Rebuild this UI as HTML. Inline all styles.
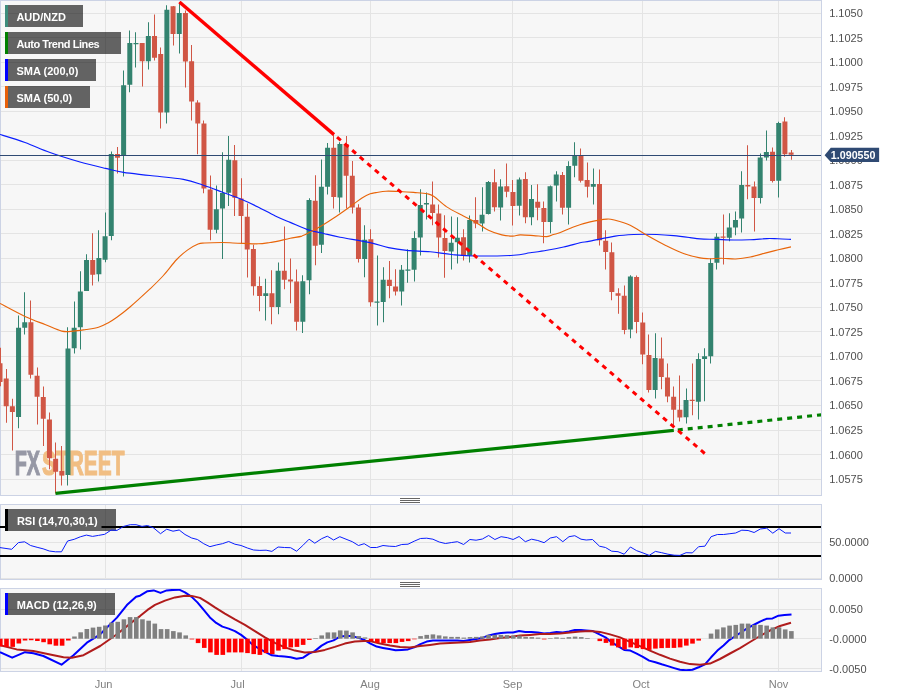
<!DOCTYPE html>
<html lang="en"><head><meta charset="utf-8"><title>AUD/NZD chart</title>
<style>html,body{margin:0;padding:0;background:#fff;}body{width:898px;height:697px;overflow:hidden;}svg{display:block}text{font-family:"Liberation Sans", Arial, sans-serif;}.ax{font-size:11px;fill:#505050;}.xl{font-size:11px;fill:#808080;text-anchor:middle;}.lg{font-size:11px;font-weight:bold;fill:#fff;}</style></head><body>
<svg width="898" height="697" viewBox="0 0 898 697">
<rect x="0" y="0" width="898" height="697" fill="#fff"/>
<rect x="0.5" y="0.5" width="821" height="495.0" fill="#f7f7f7" stroke="#ccd3e5" stroke-width="1"/>
<rect x="0.5" y="504.5" width="821" height="75.0" fill="#f7f7f7" stroke="#ccd3e5" stroke-width="1"/>
<rect x="0.5" y="588.5" width="821" height="83.0" fill="#f7f7f7" stroke="#ccd3e5" stroke-width="1"/>
<path d="M1 13.5H821M1 37.5H821M1 62.5H821M1 86.5H821M1 111.5H821M1 135.5H821M1 160.5H821M1 184.5H821M1 209.5H821M1 233.5H821M1 258.5H821M1 282.5H821M1 307.5H821M1 331.5H821M1 356.5H821M1 380.5H821M1 405.5H821M1 430.5H821M1 454.5H821M1 479.5H821M105.5 1V495M105.5 505V579M105.5 589V671M241.5 1V495M241.5 505V579M241.5 589V671M370.5 1V495M370.5 505V579M370.5 589V671M512.5 1V495M512.5 505V579M512.5 589V671M642.5 1V495M642.5 505V579M642.5 589V671M778.5 1V495M778.5 505V579M778.5 589V671M1 542.5H821M1 578.5H821M1 609.5H821M1 638.5H821M1 668.5H821" stroke="#e4e4e4" stroke-width="1" fill="none"/>
<defs><clipPath id="c1"><rect x="0" y="1" width="821" height="494"/></clipPath><clipPath id="c2"><rect x="0" y="505" width="821" height="74"/></clipPath><clipPath id="c3"><rect x="0" y="589" width="821" height="82"/></clipPath></defs>
<g clip-path="url(#c1)">
<g font-size="35.4" font-weight="bold" stroke-width="1.2" paint-order="stroke" lengthAdjust="spacingAndGlyphs"><text x="14.7" y="474.9" textLength="25.4" lengthAdjust="spacingAndGlyphs" fill="#9698a5" stroke="#9698a5">FX</text><text x="42" y="474.9" textLength="82.4" lengthAdjust="spacingAndGlyphs" fill="#f1be83" stroke="#f1be83">STREET</text></g>
<g>
<path d="M-2.49 363.2h5v18.8h-5zM0 347.8h1v38.5h-1z" fill="#d05645"/>
<path d="M3.69 378.6h5v27.6h-5zM6 369.0h1v53.7h-1z" fill="#d05645"/>
<path d="M9.87 406.2h5v5.9h-5zM12 398.7h1v51.8h-1z" fill="#d05645"/>
<path d="M16.05 327.8h5v89.1h-5zM18 315.6h1v112.7h-1z" fill="#33836f"/>
<path d="M22.23 322.3h5v5.5h-5zM24 292.2h1v42.3h-1z" fill="#33836f"/>
<path d="M28.41 322.3h5v52.4h-5zM30 300.6h1v78.0h-1z" fill="#d05645"/>
<path d="M34.59 375.7h5v21.0h-5zM37 367.4h1v57.2h-1z" fill="#d05645"/>
<path d="M40.77 397.0h5v21.7h-5zM43 386.5h1v59.6h-1z" fill="#d05645"/>
<path d="M46.95 419.6h5v38.7h-5zM49 412.4h1v56.8h-1z" fill="#d05645"/>
<path d="M53.13 458.7h5v13.0h-5zM55 442.5h1v50.9h-1z" fill="#d05645"/>
<path d="M59.31 470.9h5v4.6h-5zM61 446.1h1v39.3h-1z" fill="#d05645"/>
<path d="M65.49 348.5h5v126.5h-5zM67 327.3h1v158.1h-1z" fill="#33836f"/>
<path d="M71.67 327.8h5v20.4h-5zM74 301.4h1v52.1h-1z" fill="#33836f"/>
<path d="M77.85 291.4h5v35.9h-5zM80 271.3h1v78.2h-1z" fill="#33836f"/>
<path d="M84.03 260.1h5v30.9h-5zM86 254.2h1v36.8h-1z" fill="#33836f"/>
<path d="M90.21 260.1h5v14.6h-5zM92 233.3h1v52.2h-1z" fill="#d05645"/>
<path d="M96.39 258.1h5v16.2h-5zM98 230.2h1v51.2h-1z" fill="#33836f"/>
<path d="M102.58 236.3h5v23.4h-5zM105 212.5h1v49.7h-1z" fill="#33836f"/>
<path d="M108.76 154.0h5v82.0h-5zM111 151.5h1v88.7h-1z" fill="#33836f"/>
<path d="M114.94 154.0h5v3.8h-5zM117 147.0h1v26.4h-1z" fill="#d05645"/>
<path d="M121.12 85.2h5v70.1h-5zM123 70.5h1v106.1h-1z" fill="#33836f"/>
<path d="M127.30 43.0h5v41.7h-5zM129 30.4h1v61.9h-1z" fill="#33836f"/>
<path d="M133.48 43.1h5v1.2h-5zM135 32.3h1v35.1h-1z" fill="#33836f"/>
<path d="M139.66 43.0h5v18.3h-5zM142 43.0h1v43.4h-1z" fill="#d05645"/>
<path d="M145.84 35.9h5v25.4h-5zM148 22.2h1v47.2h-1z" fill="#33836f"/>
<path d="M152.02 35.9h5v21.8h-5zM154 14.5h1v46.0h-1z" fill="#d05645"/>
<path d="M158.20 54.0h5v58.5h-5zM160 47.6h1v80.8h-1z" fill="#d05645"/>
<path d="M164.38 9.7h5v102.8h-5zM166 5.3h1v118.1h-1z" fill="#33836f"/>
<path d="M170.56 6.2h5v27.7h-5zM173 6.0h1v39.5h-1z" fill="#d05645"/>
<path d="M176.74 13.0h5v20.9h-5zM179 2.5h1v51.0h-1z" fill="#33836f"/>
<path d="M182.92 13.0h5v48.5h-5zM185 10.4h1v77.0h-1z" fill="#d05645"/>
<path d="M189.10 61.3h5v40.3h-5zM191 45.1h1v75.3h-1z" fill="#d05645"/>
<path d="M195.28 102.5h5v20.9h-5zM197 100.3h1v54.0h-1z" fill="#d05645"/>
<path d="M201.46 123.4h5v65.2h-5zM203 120.4h1v72.9h-1z" fill="#d05645"/>
<path d="M207.64 189.4h5v40.4h-5zM210 175.5h1v64.7h-1z" fill="#d05645"/>
<path d="M213.82 209.3h5v20.5h-5zM216 185.6h1v47.6h-1z" fill="#33836f"/>
<path d="M220.00 193.1h5v15.5h-5zM222 152.3h1v106.8h-1z" fill="#33836f"/>
<path d="M226.18 159.8h5v33.0h-5zM228 135.9h1v70.2h-1z" fill="#33836f"/>
<path d="M232.36 160.2h5v37.6h-5zM234 145.1h1v70.9h-1z" fill="#d05645"/>
<path d="M238.54 198.6h5v17.4h-5zM241 178.2h1v65.4h-1z" fill="#d05645"/>
<path d="M244.72 216.8h5v32.6h-5zM247 203.6h1v73.9h-1z" fill="#d05645"/>
<path d="M250.90 248.9h5v37.3h-5zM253 244.7h1v50.7h-1z" fill="#d05645"/>
<path d="M257.08 285.9h5v10.0h-5zM259 276.5h1v34.8h-1z" fill="#d05645"/>
<path d="M263.26 293.2h5v2.7h-5zM265 278.7h1v41.8h-1z" fill="#33836f"/>
<path d="M269.44 293.2h5v13.9h-5zM271 270.3h1v54.0h-1z" fill="#d05645"/>
<path d="M275.62 270.7h5v36.4h-5zM278 262.5h1v51.8h-1z" fill="#33836f"/>
<path d="M281.80 270.7h5v9.1h-5zM284 226.4h1v62.8h-1z" fill="#d05645"/>
<path d="M287.98 279.5h5v2.0h-5zM290 258.6h1v44.6h-1z" fill="#d05645"/>
<path d="M294.16 281.5h5v40.3h-5zM296 269.5h1v61.0h-1z" fill="#d05645"/>
<path d="M300.34 281.2h5v40.6h-5zM302 275.3h1v57.7h-1z" fill="#33836f"/>
<path d="M306.52 200.1h5v80.2h-5zM309 198.2h1v96.0h-1z" fill="#33836f"/>
<path d="M312.71 200.7h5v45.1h-5zM315 175.3h1v90.0h-1z" fill="#d05645"/>
<path d="M318.89 186.7h5v58.0h-5zM321 159.5h1v93.6h-1z" fill="#33836f"/>
<path d="M325.07 147.8h5v38.9h-5zM327 143.1h1v51.5h-1z" fill="#33836f"/>
<path d="M331.25 147.8h5v49.3h-5zM333 134.4h1v74.0h-1z" fill="#d05645"/>
<path d="M337.43 143.9h5v53.5h-5zM339 142.3h1v70.3h-1z" fill="#33836f"/>
<path d="M343.61 143.9h5v31.8h-5zM346 136.1h1v72.3h-1z" fill="#d05645"/>
<path d="M349.79 175.8h5v31.8h-5zM352 161.1h1v52.3h-1z" fill="#d05645"/>
<path d="M355.97 207.6h5v51.3h-5zM358 204.3h1v58.3h-1z" fill="#d05645"/>
<path d="M362.15 239.7h5v19.2h-5zM364 225.3h1v52.0h-1z" fill="#33836f"/>
<path d="M368.33 239.2h5v63.0h-5zM370 229.2h1v77.4h-1z" fill="#d05645"/>
<path d="M374.51 301.6h5v1.2h-5zM377 255.4h1v70.2h-1z" fill="#33836f"/>
<path d="M380.69 279.8h5v22.1h-5zM383 267.3h1v55.0h-1z" fill="#33836f"/>
<path d="M386.87 279.7h5v6.3h-5zM389 260.9h1v37.3h-1z" fill="#d05645"/>
<path d="M393.05 286.4h5v5.0h-5zM395 269.3h1v26.2h-1z" fill="#d05645"/>
<path d="M399.23 269.8h5v21.7h-5zM401 265.1h1v40.5h-1z" fill="#33836f"/>
<path d="M405.41 269.6h5v1.2h-5zM407 249.2h1v33.5h-1z" fill="#33836f"/>
<path d="M411.59 238.0h5v31.8h-5zM414 231.2h1v50.3h-1z" fill="#33836f"/>
<path d="M417.77 205.1h5v32.4h-5zM420 189.2h1v66.4h-1z" fill="#33836f"/>
<path d="M423.95 202.9h5v1.7h-5zM426 192.4h1v27.2h-1z" fill="#33836f"/>
<path d="M430.13 204.5h5v8.5h-5zM432 181.5h1v43.8h-1z" fill="#d05645"/>
<path d="M436.31 213.6h5v24.0h-5zM438 204.4h1v53.2h-1z" fill="#d05645"/>
<path d="M442.49 238.0h5v13.0h-5zM444 215.2h1v62.5h-1z" fill="#d05645"/>
<path d="M448.67 242.7h5v8.8h-5zM451 216.4h1v53.2h-1z" fill="#33836f"/>
<path d="M454.85 237.8h5v4.4h-5zM457 217.2h1v46.3h-1z" fill="#33836f"/>
<path d="M461.03 237.3h5v18.6h-5zM463 229.3h1v31.3h-1z" fill="#d05645"/>
<path d="M467.21 219.9h5v35.5h-5zM469 215.5h1v47.1h-1z" fill="#33836f"/>
<path d="M473.39 219.9h5v3.6h-5zM475 197.3h1v31.0h-1z" fill="#d05645"/>
<path d="M479.57 214.7h5v8.9h-5zM482 187.3h1v44.1h-1z" fill="#33836f"/>
<path d="M485.75 182.1h5v31.9h-5zM488 180.9h1v33.6h-1z" fill="#33836f"/>
<path d="M491.93 182.3h5v24.9h-5zM494 169.2h1v42.2h-1z" fill="#d05645"/>
<path d="M498.11 186.5h5v20.9h-5zM500 179.3h1v41.3h-1z" fill="#33836f"/>
<path d="M504.29 186.3h5v5.5h-5zM506 163.4h1v33.9h-1z" fill="#d05645"/>
<path d="M510.47 192.1h5v13.9h-5zM512 180.1h1v45.5h-1z" fill="#d05645"/>
<path d="M516.66 179.6h5v26.1h-5zM519 177.6h1v37.9h-1z" fill="#33836f"/>
<path d="M522.84 178.9h5v38.3h-5zM525 172.3h1v50.9h-1z" fill="#d05645"/>
<path d="M529.02 199.0h5v18.2h-5zM531 185.1h1v40.1h-1z" fill="#33836f"/>
<path d="M535.20 201.8h5v5.9h-5zM537 184.3h1v35.9h-1z" fill="#d05645"/>
<path d="M541.38 208.0h5v13.9h-5zM543 201.5h1v41.8h-1z" fill="#d05645"/>
<path d="M547.56 186.3h5v35.6h-5zM550 185.5h1v47.8h-1z" fill="#33836f"/>
<path d="M553.74 174.6h5v11.0h-5zM556 171.3h1v30.2h-1z" fill="#33836f"/>
<path d="M559.92 175.1h5v32.6h-5zM562 172.1h1v42.3h-1z" fill="#d05645"/>
<path d="M566.10 165.9h5v41.8h-5zM568 161.2h1v63.2h-1z" fill="#33836f"/>
<path d="M572.28 155.5h5v10.2h-5zM574 142.3h1v35.0h-1z" fill="#33836f"/>
<path d="M578.46 155.9h5v24.8h-5zM580 148.4h1v34.2h-1z" fill="#d05645"/>
<path d="M584.64 180.1h5v6.7h-5zM587 162.6h1v34.8h-1z" fill="#d05645"/>
<path d="M590.82 184.0h5v2.8h-5zM593 168.4h1v36.0h-1z" fill="#33836f"/>
<path d="M597.00 184.0h5v56.2h-5zM599 169.6h1v75.9h-1z" fill="#d05645"/>
<path d="M603.18 240.8h5v11.1h-5zM605 230.3h1v39.1h-1z" fill="#d05645"/>
<path d="M609.36 252.2h5v39.8h-5zM611 242.5h1v57.8h-1z" fill="#d05645"/>
<path d="M615.54 293.3h5v2.4h-5zM618 288.3h1v25.4h-1z" fill="#d05645"/>
<path d="M621.72 295.8h5v34.1h-5zM624 285.6h1v48.7h-1z" fill="#d05645"/>
<path d="M627.90 276.4h5v53.2h-5zM630 275.3h1v63.0h-1z" fill="#33836f"/>
<path d="M634.08 276.9h5v45.2h-5zM636 275.6h1v57.7h-1z" fill="#d05645"/>
<path d="M640.26 322.6h5v31.9h-5zM642 312.4h1v51.8h-1z" fill="#d05645"/>
<path d="M646.44 355.0h5v35.1h-5zM648 334.6h1v58.0h-1z" fill="#d05645"/>
<path d="M652.62 358.0h5v32.1h-5zM655 333.3h1v65.2h-1z" fill="#33836f"/>
<path d="M658.80 358.4h5v18.7h-5zM661 337.5h1v51.8h-1z" fill="#d05645"/>
<path d="M664.98 377.6h5v18.9h-5zM667 363.4h1v38.9h-1z" fill="#d05645"/>
<path d="M671.16 396.8h5v12.9h-5zM673 386.4h1v40.8h-1z" fill="#d05645"/>
<path d="M677.34 409.7h5v7.7h-5zM679 375.4h1v46.0h-1z" fill="#d05645"/>
<path d="M683.52 400.1h5v17.1h-5zM686 388.4h1v35.1h-1z" fill="#33836f"/>
<path d="M689.70 399.8h5v1.2h-5zM692 363.4h1v51.8h-1z" fill="#d05645"/>
<path d="M695.88 358.9h5v42.9h-5zM698 353.3h1v66.1h-1z" fill="#33836f"/>
<path d="M702.06 356.2h5v2.7h-5zM704 348.3h1v53.0h-1z" fill="#33836f"/>
<path d="M708.24 263.1h5v93.1h-5zM710 258.6h1v104.8h-1z" fill="#33836f"/>
<path d="M714.42 236.7h5v26.0h-5zM716 233.3h1v36.1h-1z" fill="#33836f"/>
<path d="M720.61 236.5h5v1.3h-5zM723 214.4h1v50.0h-1z" fill="#d05645"/>
<path d="M726.79 227.4h5v10.4h-5zM729 213.2h1v28.1h-1z" fill="#33836f"/>
<path d="M732.97 219.9h5v7.5h-5zM735 211.4h1v23.9h-1z" fill="#33836f"/>
<path d="M739.15 185.1h5v33.5h-5zM741 171.3h1v61.1h-1z" fill="#33836f"/>
<path d="M745.33 185.1h5v1.4h-5zM747 145.2h1v54.1h-1z" fill="#d05645"/>
<path d="M751.51 186.5h5v11.5h-5zM754 181.5h1v50.1h-1z" fill="#d05645"/>
<path d="M757.69 157.5h5v40.5h-5zM760 153.4h1v50.1h-1z" fill="#33836f"/>
<path d="M763.87 151.9h5v5.6h-5zM766 130.4h1v30.0h-1z" fill="#33836f"/>
<path d="M770.05 151.7h5v29.3h-5zM772 147.5h1v35.1h-1z" fill="#d05645"/>
<path d="M776.23 122.9h5v57.9h-5zM778 121.7h1v75.8h-1z" fill="#33836f"/>
<path d="M782.41 121.4h5v32.9h-5zM784 117.2h1v39.6h-1z" fill="#d05645"/>
<path d="M788.59 152.5h5v2.2h-5zM791 150.0h1v9.7h-1z" fill="#d05645"/>
</g>
<path d="M0.0 134.5C4.2 135.8 16.7 139.5 25.0 142.5C33.3 145.5 40.8 149.2 50.0 152.5C59.2 155.8 70.7 159.3 80.0 162.0C89.3 164.7 98.3 166.7 105.6 168.4C112.8 170.1 116.1 171.2 123.5 172.4C130.9 173.6 140.0 174.3 150.0 175.5C160.0 176.7 174.5 177.8 183.4 179.4C192.3 181.0 197.0 183.1 203.4 185.2C209.8 187.3 215.6 189.6 222.0 192.0C228.4 194.4 235.9 197.0 241.9 199.5C247.9 202.0 252.4 204.2 258.0 207.0C263.6 209.8 269.9 213.4 275.3 216.0C280.7 218.6 284.9 220.2 290.2 222.4C295.5 224.6 301.3 227.6 306.9 229.4C312.5 231.2 318.1 232.2 323.6 233.5C329.1 234.8 332.2 235.7 340.0 237.2C347.8 238.7 362.0 240.9 370.1 242.6C378.2 244.3 382.4 246.3 388.5 247.6C394.6 248.9 399.9 249.7 406.8 250.4C413.8 251.1 422.7 251.1 430.2 251.8C437.7 252.5 444.2 253.8 451.7 254.5C459.2 255.2 464.7 255.9 475.0 256.0C485.3 256.1 504.3 255.8 513.5 255.3C522.7 254.8 524.6 253.6 530.2 252.8C535.8 252.0 541.3 251.3 546.9 250.3C552.5 249.3 558.1 248.2 563.6 247.0C569.1 245.8 575.6 243.8 580.0 242.8C584.4 241.8 584.2 242.2 590.1 241.1C596.0 240.0 608.0 237.2 615.2 236.1C622.4 235.0 626.5 234.8 633.5 234.5C640.5 234.2 650.2 234.3 656.9 234.5C663.6 234.7 668.1 235.1 673.6 235.6C679.1 236.1 685.6 237.0 690.0 237.6C694.4 238.2 695.5 238.6 700.0 238.9C704.5 239.2 711.2 239.2 716.8 239.4C722.4 239.6 728.1 239.9 733.6 240.0C739.1 240.1 744.4 239.9 750.0 239.7C755.6 239.5 762.3 238.8 767.0 238.6C771.7 238.4 774.0 238.7 778.0 238.8C782.0 238.9 788.8 239.3 791.0 239.4" fill="none" stroke="#0a1eff" stroke-width="1.15" stroke-linejoin="round"/>
<path d="M0.0 303.4C4.2 305.6 17.5 312.9 25.0 316.4C32.5 319.9 38.9 322.1 45.0 324.5C51.1 326.9 57.0 330.0 61.8 331.1C66.5 332.2 69.5 331.4 73.5 331.1C77.5 330.8 81.8 330.1 86.0 329.5C90.2 328.9 94.8 328.4 98.5 327.3C102.2 326.2 104.9 324.7 108.0 323.0C111.1 321.3 113.2 320.0 116.9 317.3C120.6 314.6 124.5 311.7 130.0 307.0C135.5 302.3 144.4 294.1 150.0 288.9C155.6 283.6 159.0 280.4 163.4 275.5C167.8 270.6 172.7 263.7 176.7 259.5C180.7 255.3 183.8 252.7 187.4 250.1C191.0 247.5 195.2 245.3 198.1 244.1C201.0 242.9 200.8 243.3 204.8 243.0C208.8 242.7 217.5 242.5 222.2 242.5C226.9 242.5 229.3 242.8 232.9 243.0C236.5 243.2 239.4 243.3 243.6 243.4C247.8 243.5 253.9 244.0 258.3 243.8C262.7 243.7 266.9 242.9 270.0 242.5C273.1 242.1 273.5 242.1 276.9 241.4C280.3 240.7 286.0 239.1 290.2 238.2C294.4 237.3 298.3 237.2 301.9 236.1C305.5 234.9 308.3 233.1 311.7 231.3C315.1 229.5 318.4 227.7 322.0 225.5C325.6 223.3 328.4 221.7 333.4 218.3C338.4 215.0 347.0 208.8 351.8 205.4C356.6 202.0 358.9 199.9 362.0 198.0C365.1 196.1 367.9 194.7 370.2 193.8C372.5 192.9 373.4 193.0 376.0 192.6C378.6 192.2 382.2 191.4 386.0 191.2C389.8 191.0 394.0 191.3 398.6 191.5C403.2 191.7 408.9 192.0 413.6 192.4C418.3 192.8 423.6 193.0 427.0 193.7C430.4 194.4 430.7 194.3 434.0 196.5C437.3 198.7 441.8 203.7 446.7 206.9C451.6 210.2 458.7 213.5 463.4 216.0C468.1 218.5 470.9 219.5 475.1 221.9C479.3 224.3 484.1 228.1 488.5 230.3C492.9 232.5 497.8 233.9 501.8 234.9C505.8 235.9 509.6 236.1 512.7 236.1C515.8 236.1 516.7 235.0 520.2 234.9C523.7 234.8 529.2 235.3 533.6 235.6C538.0 235.9 543.6 236.8 546.9 236.6C550.2 236.4 551.2 235.2 553.4 234.5C555.6 233.8 557.0 233.9 560.3 232.6C563.6 231.3 568.4 228.7 573.4 226.9C578.4 225.1 584.5 223.2 590.1 221.9C595.7 220.6 602.6 219.4 606.8 219.1C611.0 218.8 611.3 219.3 615.2 220.3C619.1 221.3 624.9 222.8 630.2 225.3C635.5 227.8 641.1 232.0 646.9 235.3C652.7 238.6 659.1 242.2 665.2 245.2C671.3 248.2 677.7 251.4 683.5 253.5C689.3 255.6 695.8 257.0 700.0 257.9C704.2 258.8 705.3 258.6 709.0 258.7C712.7 258.8 717.9 258.1 722.4 258.2C726.9 258.2 731.1 259.2 735.8 259.0C740.4 258.8 745.1 258.1 750.3 257.0C755.5 255.9 762.4 253.8 767.1 252.6C771.8 251.4 774.3 250.8 778.3 249.8C782.3 248.9 788.9 247.4 791.0 246.9" fill="none" stroke="#e8650a" stroke-width="1.1" stroke-linejoin="round"/>
<rect x="0" y="155" width="822" height="1" fill="#2f4a73"/>
<line x1="55.5" y1="493.4" x2="673.8" y2="430.4" stroke="#008000" stroke-width="3.2"/>
<line x1="673.8" y1="430.4" x2="822" y2="414.7" stroke="#008000" stroke-width="3.2" stroke-dasharray="5 5" stroke-dashoffset="-4"/>
<line x1="179.4" y1="2" x2="334" y2="134.6" stroke="#ff0000" stroke-width="3.4"/>
<line x1="334" y1="134.6" x2="706" y2="454.6" stroke="#ff0000" stroke-width="3" stroke-dasharray="5 5" stroke-dashoffset="-4"/>
</g>
<rect x="5" y="5" width="78" height="22" fill="#000" fill-opacity="0.6"/>
<rect x="5" y="5" width="3" height="22" fill="#3d8c7b"/>
<text class="lg" x="16.4" y="21">AUD/NZD</text>
<rect x="5" y="32" width="116" height="22" fill="#000" fill-opacity="0.6"/>
<rect x="5" y="32" width="3" height="22" fill="#008000"/>
<text class="lg" x="16.4" y="48" textLength="83.3" lengthAdjust="spacing">Auto Trend Lines</text>
<rect x="5" y="59" width="91" height="22" fill="#000" fill-opacity="0.6"/>
<rect x="5" y="59" width="3" height="22" fill="#0000ff"/>
<text class="lg" x="16.4" y="75">SMA (200,0)</text>
<rect x="5" y="86" width="85" height="22" fill="#000" fill-opacity="0.6"/>
<rect x="5" y="86" width="3" height="22" fill="#e8600a"/>
<text class="lg" x="16.4" y="102">SMA (50,0)</text>
<g clip-path="url(#c2)">
<rect x="0" y="526" width="822" height="2" fill="#000"/>
<rect x="0" y="555" width="822" height="2" fill="#000"/>
<rect x="5" y="509" width="111" height="22" fill="#636363"/>
<rect x="105" y="509" width="1" height="22" fill="#5b5b5b"/>
<rect x="101.5" y="526" width="14.5" height="2" fill="#000"/>
<rect x="5" y="509" width="3" height="22" fill="#000"/>
<polyline points="0.0,547.6 11.7,549.3 18.4,542.6 24.6,541.8 30.6,545.5 37.1,547.3 43.1,548.8 49.3,551.0 55.5,551.8 61.5,551.8 67.6,541.0 74.2,539.3 80.3,536.8 86.4,535.1 92.5,536.4 98.5,535.4 104.7,534.3 111.1,530.1 117.0,530.4 123.6,526.4 130.3,524.7 136.1,524.7 142.0,526.4 147.5,525.5 153.7,528.0 160.5,533.7 166.7,529.2 173.0,531.2 179.2,530.0 185.0,534.5 191.7,538.0 197.4,539.5 203.7,543.7 209.9,546.7 216.2,545.0 222.4,543.7 228.7,541.5 234.9,544.2 241.1,545.5 247.4,548.0 253.6,550.0 259.9,550.4 266.1,550.2 271.9,551.4 278.1,547.0 284.4,547.5 290.6,547.7 296.6,551.2 302.8,545.5 309.1,539.2 314.8,543.2 321.6,538.7 327.3,536.2 333.6,540.0 339.8,536.7 346.0,539.2 352.3,541.7 358.5,545.5 364.2,543.7 370.5,547.5 376.7,547.5 383.0,545.5 389.2,546.2 395.5,546.5 401.7,544.5 408.0,544.2 414.2,541.2 420.4,538.5 426.7,538.2 432.9,539.2 439.2,542.0 445.4,543.5 451.7,542.5 457.4,541.7 463.6,544.5 469.9,539.5 476.1,540.2 482.4,539.0 488.6,535.5 494.9,539.5 501.1,536.7 507.4,537.7 513.1,539.5 519.1,536.5 525.3,541.7 531.6,539.2 537.8,540.5 544.1,542.7 550.3,538.0 556.6,536.7 562.8,541.7 569.0,536.7 574.8,535.7 581.0,539.2 586.2,540.0 592.5,539.5 599.5,546.2 605.5,547.5 611.7,551.2 618.0,551.7 624.2,554.2 630.4,547.0 636.7,550.7 642.9,552.9 649.2,555.4 655.4,551.4 661.7,552.7 667.9,554.2 674.2,555.2 679.9,555.4 686.1,552.7 692.4,552.9 698.6,546.7 704.9,546.2 711.1,536.7 717.4,534.5 723.6,534.5 729.9,533.7 735.6,533.0 741.8,530.2 748.1,530.5 754.1,532.5 760.3,529.0 766.6,528.2 772.8,533.2 779.0,528.7 785.3,533.0 791.0,533.0" fill="none" stroke="#0a1eff" stroke-width="1" stroke-linejoin="round"/>
</g>
<text class="lg" x="16.9" y="525">RSI (14,70,30,1)</text>
<g clip-path="url(#c3)">
<polyline points="0.0,652.2 12.2,657.7 25.0,652.2 33.4,653.2 43.4,656.0 61.5,664.7 73.5,655.2 86.9,642.7 100.2,634.3 116.9,617.6 126.9,605.1 136.1,596.7 140.0,595.7 147.5,591.2 153.7,590.4 160.5,592.9 166.7,590.4 173.0,589.9 179.2,589.7 185.0,592.4 191.7,596.9 197.4,602.4 203.7,609.9 209.9,617.4 216.2,622.9 222.4,626.6 228.7,628.6 234.9,631.1 241.1,634.9 247.4,639.9 253.6,645.4 259.9,649.1 266.1,652.3 271.9,655.3 278.1,656.1 284.4,656.6 290.6,657.3 296.6,658.8 302.8,657.8 309.1,653.6 314.8,651.1 321.6,645.6 327.3,642.4 333.6,640.4 339.8,636.6 346.0,636.1 352.3,636.1 358.5,637.9 364.2,639.9 370.5,643.6 376.7,646.6 383.0,647.9 389.2,649.1 395.5,650.3 401.7,649.9 408.0,649.4 414.2,647.4 420.4,644.1 426.7,641.6 432.9,640.4 439.2,640.4 445.4,640.6 451.7,640.6 457.4,640.4 463.6,641.1 469.9,639.9 476.1,639.1 482.4,637.9 488.6,635.4 494.9,634.1 501.1,632.9 507.4,632.4 513.1,632.4 519.1,631.1 525.3,631.9 531.6,631.9 537.8,632.4 544.1,633.6 550.3,632.9 556.6,631.9 562.8,632.4 569.0,631.4 574.8,630.1 581.0,630.1 586.2,630.4 592.5,630.9 599.5,634.4 605.5,637.4 611.7,642.4 618.0,646.1 624.2,649.9 630.4,650.6 636.7,653.6 642.9,656.8 649.2,660.6 655.4,662.3 661.7,664.3 667.9,666.1 674.2,668.1 679.9,669.8 686.1,670.3 692.4,669.8 698.6,667.3 704.9,664.3 711.1,657.3 717.4,650.6 723.5,645.4 729.5,639.8 735.5,636.0 741.5,632.1 747.5,628.2 754.5,624.5 760.5,621.3 766.5,618.8 772.5,618.4 778.5,615.7 784.5,615.1 791.5,614.6" fill="none" stroke="#0000ff" stroke-width="2" stroke-linejoin="round"/>
<polyline points="0.0,645.2 16.7,649.4 33.4,651.0 50.1,654.4 63.5,657.2 71.8,657.7 83.5,655.2 100.2,646.0 116.9,634.3 133.6,620.9 140.0,616.1 147.5,609.9 155.0,604.9 165.0,600.6 175.0,597.4 185.0,595.7 191.7,595.9 200.0,597.9 207.4,602.4 214.9,607.4 224.9,613.6 234.9,619.4 244.9,624.9 254.9,631.1 264.9,637.4 274.9,642.9 284.9,647.4 294.9,650.6 304.8,652.4 314.8,651.9 324.8,649.9 334.8,646.9 344.8,643.6 354.8,641.6 364.0,641.1 370.0,641.1 380.0,643.6 390.0,645.4 400.0,646.9 410.0,647.4 420.0,646.1 430.0,644.9 440.0,643.6 450.0,642.9 460.0,642.4 470.0,641.9 480.0,640.6 490.0,639.4 500.0,637.9 510.0,636.9 520.0,635.6 530.0,634.9 540.0,634.1 550.0,633.9 560.0,633.4 570.0,632.6 580.0,631.6 590.0,631.1 600.0,631.9 610.0,634.4 620.0,637.4 630.0,641.9 640.0,646.1 650.0,650.6 660.0,654.8 670.0,658.6 680.0,661.8 690.0,664.1 700.0,664.8 710.0,663.6 720.0,659.0 730.0,653.5 740.0,648.2 750.0,642.0 760.0,636.0 770.0,630.5 780.0,626.0 791.0,622.8" fill="none" stroke="#b01c1c" stroke-width="2" stroke-linejoin="round"/>
<rect x="-1.99" y="638.7" width="4.6" height="7.7" fill="#ff0000"/>
<rect x="4.19" y="638.7" width="4.6" height="8.2" fill="#ff0000"/>
<rect x="10.37" y="638.7" width="4.6" height="8.2" fill="#ff0000"/>
<rect x="16.55" y="638.7" width="4.6" height="4.8" fill="#ff0000"/>
<rect x="22.73" y="638.7" width="4.6" height="1.8" fill="#ff0000"/>
<rect x="28.91" y="638.7" width="4.6" height="1.5" fill="#ff0000"/>
<rect x="35.09" y="638.7" width="4.6" height="2.3" fill="#ff0000"/>
<rect x="41.27" y="638.7" width="4.6" height="3.5" fill="#ff0000"/>
<rect x="47.45" y="638.7" width="4.6" height="5.6" fill="#ff0000"/>
<rect x="53.63" y="638.7" width="4.6" height="7.0" fill="#ff0000"/>
<rect x="59.81" y="638.7" width="4.6" height="7.0" fill="#ff0000"/>
<rect x="65.99" y="638.7" width="4.6" height="1.8" fill="#ff0000"/>
<rect x="72.17" y="636.5" width="4.6" height="2.2" fill="#808080"/>
<rect x="78.35" y="632.3" width="4.6" height="6.4" fill="#808080"/>
<rect x="84.53" y="629.0" width="4.6" height="9.7" fill="#808080"/>
<rect x="90.71" y="627.6" width="4.6" height="11.1" fill="#808080"/>
<rect x="96.89" y="626.8" width="4.6" height="11.9" fill="#808080"/>
<rect x="103.08" y="625.5" width="4.6" height="13.2" fill="#808080"/>
<rect x="109.26" y="622.6" width="4.6" height="16.1" fill="#808080"/>
<rect x="115.44" y="621.8" width="4.6" height="16.9" fill="#808080"/>
<rect x="121.62" y="619.3" width="4.6" height="19.4" fill="#808080"/>
<rect x="127.80" y="617.1" width="4.6" height="21.6" fill="#808080"/>
<rect x="133.98" y="617.1" width="4.6" height="21.6" fill="#808080"/>
<rect x="140.16" y="619.3" width="4.6" height="19.4" fill="#808080"/>
<rect x="146.34" y="620.7" width="4.6" height="18.0" fill="#808080"/>
<rect x="152.52" y="623.6" width="4.6" height="15.1" fill="#808080"/>
<rect x="158.70" y="629.1" width="4.6" height="9.6" fill="#808080"/>
<rect x="164.88" y="629.1" width="4.6" height="9.6" fill="#808080"/>
<rect x="171.06" y="631.1" width="4.6" height="7.6" fill="#808080"/>
<rect x="177.24" y="632.4" width="4.6" height="6.3" fill="#808080"/>
<rect x="183.42" y="635.4" width="4.6" height="3.3" fill="#808080"/>
<rect x="189.60" y="638.7" width="4.6" height="0.7" fill="#ff0000"/>
<rect x="195.78" y="638.7" width="4.6" height="4.4" fill="#ff0000"/>
<rect x="201.96" y="638.7" width="4.6" height="9.2" fill="#ff0000"/>
<rect x="208.14" y="638.7" width="4.6" height="13.7" fill="#ff0000"/>
<rect x="214.32" y="638.7" width="4.6" height="16.2" fill="#ff0000"/>
<rect x="220.50" y="638.7" width="4.6" height="16.2" fill="#ff0000"/>
<rect x="226.68" y="638.7" width="4.6" height="13.7" fill="#ff0000"/>
<rect x="232.86" y="638.7" width="4.6" height="13.7" fill="#ff0000"/>
<rect x="239.04" y="638.7" width="4.6" height="13.7" fill="#ff0000"/>
<rect x="245.22" y="638.7" width="4.6" height="14.4" fill="#ff0000"/>
<rect x="251.40" y="638.7" width="4.6" height="15.4" fill="#ff0000"/>
<rect x="257.58" y="638.7" width="4.6" height="16.2" fill="#ff0000"/>
<rect x="263.76" y="638.7" width="4.6" height="14.4" fill="#ff0000"/>
<rect x="269.94" y="638.7" width="4.6" height="15.4" fill="#ff0000"/>
<rect x="276.12" y="638.7" width="4.6" height="11.9" fill="#ff0000"/>
<rect x="282.30" y="638.7" width="4.6" height="10.4" fill="#ff0000"/>
<rect x="288.48" y="638.7" width="4.6" height="8.7" fill="#ff0000"/>
<rect x="294.66" y="638.7" width="4.6" height="8.2" fill="#ff0000"/>
<rect x="300.84" y="638.7" width="4.6" height="6.2" fill="#ff0000"/>
<rect x="307.02" y="638.7" width="4.6" height="1.2" fill="#ff0000"/>
<rect x="313.21" y="638.1" width="4.6" height="0.6" fill="#808080"/>
<rect x="319.39" y="635.4" width="4.6" height="3.3" fill="#808080"/>
<rect x="325.57" y="632.4" width="4.6" height="6.3" fill="#808080"/>
<rect x="331.75" y="632.4" width="4.6" height="6.3" fill="#808080"/>
<rect x="337.93" y="630.4" width="4.6" height="8.3" fill="#808080"/>
<rect x="344.11" y="630.6" width="4.6" height="8.1" fill="#808080"/>
<rect x="350.29" y="632.4" width="4.6" height="6.3" fill="#808080"/>
<rect x="356.47" y="636.1" width="4.6" height="2.6" fill="#808080"/>
<rect x="362.65" y="637.4" width="4.6" height="1.3" fill="#808080"/>
<rect x="368.83" y="638.7" width="4.6" height="2.4" fill="#ff0000"/>
<rect x="375.01" y="638.7" width="4.6" height="4.2" fill="#ff0000"/>
<rect x="381.19" y="638.7" width="4.6" height="4.4" fill="#ff0000"/>
<rect x="387.37" y="638.7" width="4.6" height="4.4" fill="#ff0000"/>
<rect x="393.55" y="638.7" width="4.6" height="4.4" fill="#ff0000"/>
<rect x="399.73" y="638.7" width="4.6" height="3.2" fill="#ff0000"/>
<rect x="405.91" y="638.7" width="4.6" height="2.4" fill="#ff0000"/>
<rect x="412.09" y="638.7" width="4.6" height="0.6" fill="#ff0000"/>
<rect x="418.27" y="636.1" width="4.6" height="2.6" fill="#808080"/>
<rect x="424.45" y="634.9" width="4.6" height="3.8" fill="#808080"/>
<rect x="430.63" y="634.4" width="4.6" height="4.3" fill="#808080"/>
<rect x="436.81" y="635.4" width="4.6" height="3.3" fill="#808080"/>
<rect x="442.99" y="636.4" width="4.6" height="2.3" fill="#808080"/>
<rect x="449.17" y="636.9" width="4.6" height="1.8" fill="#808080"/>
<rect x="455.35" y="636.9" width="4.6" height="1.8" fill="#808080"/>
<rect x="461.53" y="637.6" width="4.6" height="1.1" fill="#808080"/>
<rect x="467.71" y="637.1" width="4.6" height="1.6" fill="#808080"/>
<rect x="473.89" y="636.9" width="4.6" height="1.8" fill="#808080"/>
<rect x="480.07" y="636.4" width="4.6" height="2.3" fill="#808080"/>
<rect x="486.25" y="634.9" width="4.6" height="3.8" fill="#808080"/>
<rect x="492.43" y="634.9" width="4.6" height="3.8" fill="#808080"/>
<rect x="498.61" y="634.9" width="4.6" height="3.8" fill="#808080"/>
<rect x="504.79" y="635.1" width="4.6" height="3.6" fill="#808080"/>
<rect x="510.97" y="635.6" width="4.6" height="3.1" fill="#808080"/>
<rect x="517.16" y="635.6" width="4.6" height="3.1" fill="#808080"/>
<rect x="523.34" y="636.9" width="4.6" height="1.8" fill="#808080"/>
<rect x="529.52" y="637.1" width="4.6" height="1.6" fill="#808080"/>
<rect x="535.70" y="637.6" width="4.6" height="1.1" fill="#808080"/>
<rect x="541.88" y="638.7" width="4.6" height="0.7" fill="#ff0000"/>
<rect x="548.06" y="638.1" width="4.6" height="0.6" fill="#808080"/>
<rect x="554.24" y="637.4" width="4.6" height="1.3" fill="#808080"/>
<rect x="560.42" y="637.9" width="4.6" height="0.8" fill="#808080"/>
<rect x="566.60" y="637.1" width="4.6" height="1.6" fill="#808080"/>
<rect x="572.78" y="636.6" width="4.6" height="2.1" fill="#808080"/>
<rect x="578.96" y="637.1" width="4.6" height="1.6" fill="#808080"/>
<rect x="585.14" y="638.0" width="4.6" height="0.7" fill="#808080"/>
<rect x="597.50" y="638.7" width="4.6" height="2.4" fill="#ff0000"/>
<rect x="603.68" y="638.7" width="4.6" height="4.2" fill="#ff0000"/>
<rect x="609.86" y="638.7" width="4.6" height="6.9" fill="#ff0000"/>
<rect x="616.04" y="638.7" width="4.6" height="8.7" fill="#ff0000"/>
<rect x="622.22" y="638.7" width="4.6" height="10.7" fill="#ff0000"/>
<rect x="628.40" y="638.7" width="4.6" height="8.7" fill="#ff0000"/>
<rect x="634.58" y="638.7" width="4.6" height="9.4" fill="#ff0000"/>
<rect x="640.76" y="638.7" width="4.6" height="10.4" fill="#ff0000"/>
<rect x="646.94" y="638.7" width="4.6" height="11.2" fill="#ff0000"/>
<rect x="653.12" y="638.7" width="4.6" height="9.9" fill="#ff0000"/>
<rect x="659.30" y="638.7" width="4.6" height="9.4" fill="#ff0000"/>
<rect x="665.48" y="638.7" width="4.6" height="9.2" fill="#ff0000"/>
<rect x="671.66" y="638.7" width="4.6" height="9.2" fill="#ff0000"/>
<rect x="677.84" y="638.7" width="4.6" height="8.7" fill="#ff0000"/>
<rect x="684.02" y="638.7" width="4.6" height="6.9" fill="#ff0000"/>
<rect x="690.20" y="638.7" width="4.6" height="4.9" fill="#ff0000"/>
<rect x="696.38" y="638.7" width="4.6" height="1.9" fill="#ff0000"/>
<rect x="708.74" y="633.6" width="4.6" height="5.1" fill="#808080"/>
<rect x="714.92" y="629.4" width="4.6" height="9.3" fill="#808080"/>
<rect x="721.11" y="627.4" width="4.6" height="11.3" fill="#808080"/>
<rect x="727.29" y="625.6" width="4.6" height="13.1" fill="#808080"/>
<rect x="733.47" y="624.9" width="4.6" height="13.8" fill="#808080"/>
<rect x="739.65" y="623.6" width="4.6" height="15.1" fill="#808080"/>
<rect x="745.83" y="623.6" width="4.6" height="15.1" fill="#808080"/>
<rect x="752.01" y="624.9" width="4.6" height="13.8" fill="#808080"/>
<rect x="758.19" y="624.9" width="4.6" height="13.8" fill="#808080"/>
<rect x="764.37" y="625.6" width="4.6" height="13.1" fill="#808080"/>
<rect x="770.55" y="627.4" width="4.6" height="11.3" fill="#808080"/>
<rect x="776.73" y="627.4" width="4.6" height="11.3" fill="#808080"/>
<rect x="782.91" y="629.4" width="4.6" height="9.3" fill="#808080"/>
<rect x="789.09" y="631.1" width="4.6" height="7.6" fill="#808080"/>
</g>
<rect x="5" y="593" width="110" height="22" fill="#000" fill-opacity="0.6"/>
<rect x="5" y="593" width="3" height="22" fill="#0000ff"/>
<text class="lg" x="16.7" y="609">MACD (12,26,9)</text>
<rect x="400" y="498" width="20" height="1" fill="#666"/>
<rect x="400" y="500" width="20" height="1" fill="#666"/>
<rect x="400" y="502" width="20" height="1" fill="#666"/>
<rect x="400" y="582" width="20" height="1" fill="#666"/>
<rect x="400" y="584" width="20" height="1" fill="#666"/>
<rect x="400" y="586" width="20" height="1" fill="#666"/>
<text class="ax" x="829.2" y="17.0">1.1050</text>
<text class="ax" x="829.2" y="41.5">1.1025</text>
<text class="ax" x="829.2" y="66.1">1.1000</text>
<text class="ax" x="829.2" y="90.6">1.0975</text>
<text class="ax" x="829.2" y="115.1">1.0950</text>
<text class="ax" x="829.2" y="139.6">1.0925</text>
<text class="ax" x="829.2" y="164.2">1.0900</text>
<text class="ax" x="829.2" y="188.7">1.0875</text>
<text class="ax" x="829.2" y="213.2">1.0850</text>
<text class="ax" x="829.2" y="237.7">1.0825</text>
<text class="ax" x="829.2" y="262.3">1.0800</text>
<text class="ax" x="829.2" y="286.8">1.0775</text>
<text class="ax" x="829.2" y="311.3">1.0750</text>
<text class="ax" x="829.2" y="335.8">1.0725</text>
<text class="ax" x="829.2" y="360.4">1.0700</text>
<text class="ax" x="829.2" y="384.9">1.0675</text>
<text class="ax" x="829.2" y="409.4">1.0650</text>
<text class="ax" x="829.2" y="433.9">1.0625</text>
<text class="ax" x="829.2" y="458.5">1.0600</text>
<text class="ax" x="829.2" y="483.0">1.0575</text>
<text class="ax" x="829.2" y="546">50.0000</text>
<text class="ax" x="829.2" y="582">0.0000</text>
<text class="ax" x="829.2" y="613">0.0050</text>
<text class="ax" x="829.2" y="643">-0.0000</text>
<text class="ax" x="829.2" y="672.5">-0.0050</text>
<path d="M824.6 155.3L830.8 147.8H879.1V162H830.8Z" fill="#2f4a73"/>
<text x="830.8" y="159.3" font-size="11" font-weight="bold" fill="#fff" textLength="44.7" lengthAdjust="spacingAndGlyphs">1.090550</text>
<text class="xl" x="103.5" y="688">Jun</text>
<text class="xl" x="237.6" y="688">Jul</text>
<text class="xl" x="370" y="688">Aug</text>
<text class="xl" x="512.5" y="688">Sep</text>
<text class="xl" x="641" y="688">Oct</text>
<text class="xl" x="778.5" y="688">Nov</text>
</svg></body></html>
